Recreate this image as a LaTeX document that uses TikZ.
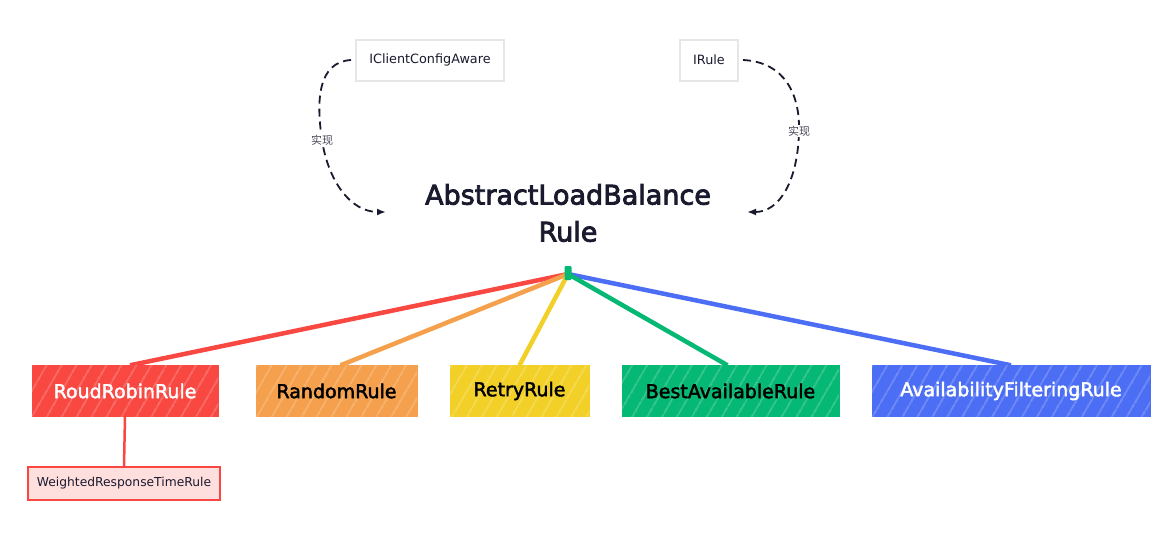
\documentclass[tikz,border=0pt]{standalone}
\usepackage{fontspec}
\setmainfont{DejaVu Sans}
\newfontfamily\medfont[FakeBold=2.2]{DejaVu Sans}
\newfontfamily\titlefont[FakeBold=3]{DejaVu Sans}
\newfontfamily\cjk{Noto Sans CJK SC}
\usetikzlibrary{patterns.meta,arrows.meta}
\definecolor{rred}{HTML}{F94842}
\definecolor{rorange}{HTML}{F5A04C}
\definecolor{ryellow}{HTML}{F2D028}
\definecolor{rgreen}{HTML}{05B873}
\definecolor{rblue}{HTML}{4C6EF5}
\definecolor{rpink}{HTML}{FFDEDE}
\definecolor{rgrey}{HTML}{E6E6E6}
\definecolor{rink}{HTML}{1A1A2E}
\begin{document}
\begin{tikzpicture}[x=1pt,y=-1pt,
  iface/.style={draw=rgrey, line width=2pt, minimum height=41pt, inner sep=0pt, font=\fontsize{12.8}{15}\selectfont, text=rink},
  rulebox/.style={fill=#1, draw=#1, line width=1pt, minimum height=51pt, inner sep=0pt, font=\medfont\fontsize{19}{22}\selectfont,
     postaction={pattern={Lines[angle=60,distance=13pt,line width=0.6pt]}, pattern color=#1!45!white}},
  branch/.style={line width=4.5pt, draw=#1},
  impl/.style={draw=rink, line width=1.8pt, dash pattern=on 8pt off 5pt, -{Latex[length=9pt,width=7pt]}},
  impllabel/.style={fill=white, inner sep=1pt, font=\cjk\fontsize{11}{13}\selectfont, text=rink!80}
]
\useasboundingbox (0,0) rectangle (1168,547);
\fill[white] (0,0) rectangle (1168,547);

% interfaces
\node[iface, minimum width=148pt] (icc) at (430,60) {IClientConfigAware};
\node[iface, minimum width=58pt] (irule) at (709,60) {IRule};

% title
\node[align=center, font=\titlefont\fontsize{27}{37}\selectfont, text=rink] (title) at (568,213) {AbstractLoadBalance\\Rule};

% hub
\coordinate (hub) at (568,274);

% rule box anchors
\path (125,391) node[minimum width=186pt, minimum height=51pt] (rr) {}
      (336.5,391) node[minimum width=161pt, minimum height=51pt] (rand) {}
      (519.5,391) node[minimum width=139pt, minimum height=51pt] (retry) {}
      (730.5,391) node[minimum width=217pt, minimum height=51pt] (best) {}
      (1011,391) node[minimum width=278pt, minimum height=51pt] (avail) {};

% branches
\draw[branch=rred] (hub) -- ([xshift=5pt]rr.north);
\draw[branch=rorange] (hub) -- ([xshift=4pt]rand.north);
\draw[branch=ryellow] (hub) -- (retry.north);
\draw[branch=rblue] (hub) -- (avail.north);
\draw[branch=rgreen] (hub) -- ([xshift=-3pt]best.north);
\node[fill=rgreen, minimum width=7pt, minimum height=14pt, inner sep=0pt, rounded corners=1pt] (hubbox) at (568,273) {};

% boxes
\node[rulebox=rred, minimum width=186pt, text=white] (rrb) at (rr) {RoudRobinRule};
\node[rulebox=rorange, minimum width=161pt, text=black] (randb) at (rand) {RandomRule};
\node[rulebox=ryellow, minimum width=139pt, text=black] (retryb) at (retry) {RetryRule};
\node[rulebox=rgreen, minimum width=217pt, text=black] (bestb) at (best) {BestAvailableRule};
\node[rulebox=rblue, minimum width=278pt, text=white] (availb) at (avail) {AvailabilityFilteringRule};
\node[fill=rpink, draw=rred, line width=2pt, minimum width=192pt, minimum height=33pt, inner sep=0pt,
      font=\fontsize{12.3}{14}\selectfont, text=rink] (wrt) at (124,483.5) {WeightedResponseTimeRule};
\draw[line width=2.5pt, draw=rred] (rrb.south) -- (wrt.north);

% implements arrows
\coordinate (tl) at (386,212);
\coordinate (tr) at (747,212);
\draw[impl] ([xshift=-4pt]icc.west) .. controls (318,62) and (316,100) .. (322,140)
   .. controls (328,180) and (350,212) .. (tl);
\draw[impl] ([xshift=4pt]irule.east) .. controls (785,62) and (800,95) .. (799,131)
   .. controls (798,180) and (780,212) .. (tr);
\node[impllabel] (l1) at (322,140) {实现};
\node[impllabel] (l2) at (799,131) {实现};
\end{tikzpicture}
\end{document}
